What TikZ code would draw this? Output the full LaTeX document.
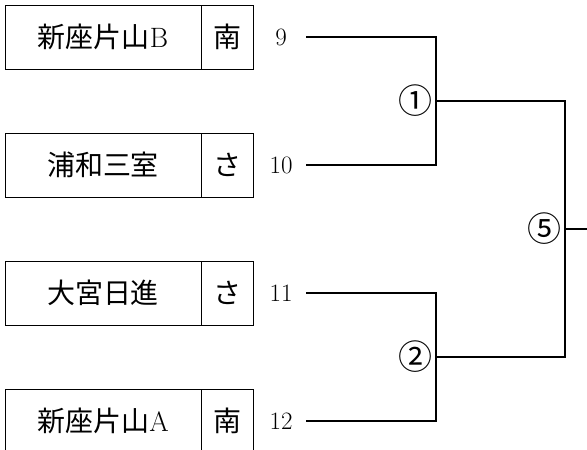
\documentclass[tikz,border=0pt]{standalone}
\usepackage{fontspec}
\newfontfamily\jp{Noto Sans CJK JP}
\usetikzlibrary{positioning}
\tikzset{
  team/.style={draw, line width=1pt, outer sep=0pt, minimum width=196pt, minimum height=64pt, font=\jp\fontsize{28}{30}\selectfont},
  pref/.style={draw, line width=1pt, outer sep=0pt, minimum width=52pt, minimum height=64pt, font=\jp\fontsize{28}{30}\selectfont},
  seed/.style={font=\fontsize{25}{28}\selectfont},
  round/.style={font=\jp\fontsize{34}{36}\selectfont, inner sep=0pt},
  bracket/.style={line width=2.5pt}
}

\begin{document}
\begin{tikzpicture}[x=1pt, y=-1pt]

  \useasboundingbox (0,0) rectangle (587,450);
  \clip (0,0) rectangle (587,450);

  % Define nodes
  \node[team]                    (t9)  at (103,37)  {新座片山{\rmfamily B}};
  \node[pref, right=0pt of t9]   (p9)               {南};
  \node[seed]                    (n9)  at (281,37)  {9};
  \node[team]                    (t10) at (103,165) {浦和三室};
  \node[pref, right=0pt of t10]  (p10)              {さ};
  \node[seed]                    (n10) at (281,165) {10};
  \node[team]                    (t11) at (103,293) {大宮日進};
  \node[pref, right=0pt of t11]  (p11)              {さ};
  \node[seed]                    (n11) at (281,293) {11};
  \node[team]                    (t12) at (103,421) {新座片山{\rmfamily A}};
  \node[pref, right=0pt of t12]  (p12)              {南};
  \node[seed]                    (n12) at (281,421) {12};

  \coordinate (s9)  at (306,37);
  \coordinate (s10) at (306,165);
  \coordinate (s11) at (306,293);
  \coordinate (s12) at (306,421);
  \coordinate (m1)  at (436,101);
  \coordinate (m2)  at (436,357);
  \coordinate (m5)  at (565,229);
  \coordinate (out) at (590,229);

  \node[round] (r1) at (415,101) {①};
  \node[round] (r2) at (415,357) {②};
  \node[round] (r5) at (544,229) {⑤};

  % Connect the nodes
  \draw[bracket] (s9) -| (m1) |- (s10);
  \draw[bracket] (s11) -| (m2) |- (s12);
  \draw[bracket] (m1) -| (m5) |- (m2);
  \draw[bracket] (m5) -- (out);

\end{tikzpicture}
\end{document}
